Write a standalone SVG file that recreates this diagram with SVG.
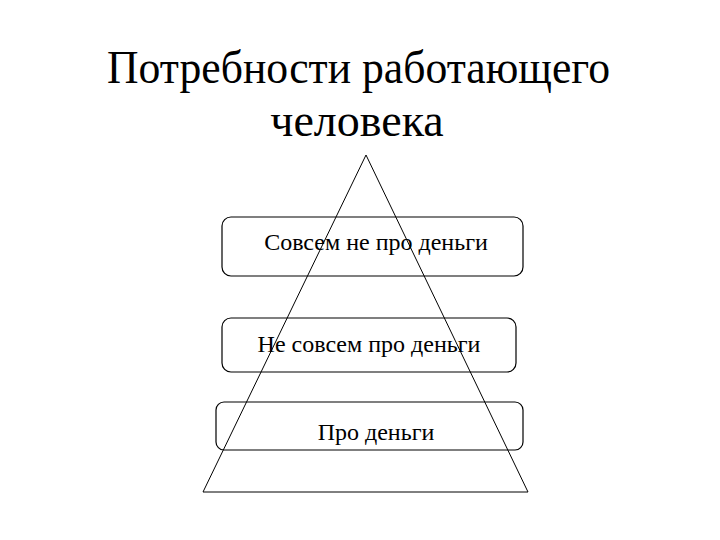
<svg xmlns="http://www.w3.org/2000/svg" width="720" height="540" viewBox="0 0 720 540">
<style>
.t{font-family:"Liberation Serif","Times New Roman",serif;fill:#000}
.title{font-size:46px}
.lbl{font-size:24px}
.box{fill:none;stroke:#000;stroke-width:1.2}
.ln{fill:none;stroke:#000;stroke-width:1}
</style>
<rect width="720" height="540" fill="#fff"/>
<g id="title">
<text class="t title" x="107" y="83" textLength="503" lengthAdjust="spacingAndGlyphs">Потребности работающего</text>
<text class="t title" x="357" y="136" text-anchor="middle">человека</text>
</g>
<g id="box1">
<rect class="box" x="222" y="217" width="301" height="59" rx="9"/>
<text class="t lbl" x="376" y="250" text-anchor="middle">Совсем не про деньги</text>
</g>
<g id="box2">
<rect class="box" x="222" y="318" width="294" height="54" rx="9"/>
<text class="t lbl" x="369" y="352" text-anchor="middle">Не совсем про деньги</text>
</g>
<g id="box3">
<rect class="box" x="216" y="402" width="307" height="48" rx="8"/>
<text class="t lbl" x="376" y="440" text-anchor="middle">Про деньги</text>
</g>
<g id="connectors">
<polygon class="ln" points="366,155 203,492 528,492"/>
</g>
</svg>
